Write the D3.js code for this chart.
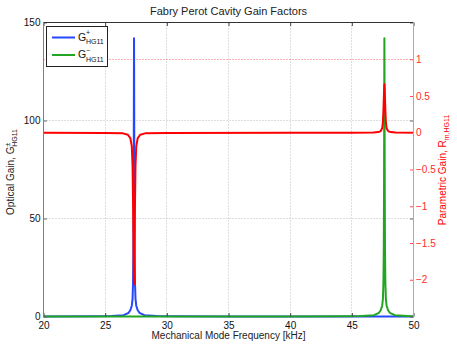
<!DOCTYPE html>
<html>
<head>
<meta charset="utf-8">
<script src="https://cdn.jsdelivr.net/npm/d3@7"></script>
<style>
body { margin: 0; background: #fff; }
svg { display: block; font-family: "Liberation Sans", Arial, Helvetica, sans-serif; }
</style>
</head>
<body>
<svg id="chart" width="457" height="344"></svg>
<script>
// mechanical mode frequency [kHz] and optical gain G+ (blue, left axis)
var gPlusFreq = [20, 24, 25.5, 26.5, 26.9, 27.04, 27.16, 27.22, 27.26, 27.29, 27.31, 27.32, 27.33, 27.34,
	27.35, 27.36, 27.37, 27.39, 27.42, 27.46, 27.52, 27.64, 27.78, 28.18, 29.18, 30.68, 35, 40, 50];
var gPlus = [0.02, 0.08, 0.2, 0.65, 1.9, 3.2, 5.5, 9, 17, 34, 62, 88, 120, 142,
	120, 88, 62, 34, 17, 9, 5.5, 3.2, 1.9, 0.65, 0.2, 0.08, 0.03, 0.02, 0.01];

// optical gain G- (green, left axis)
var gMinusFreq = [20, 30, 40, 44.3, 45.8, 46.8, 47.2, 47.34, 47.46, 47.52, 47.56, 47.59, 47.61, 47.62, 47.63, 47.64,
	47.65, 47.66, 47.67, 47.69, 47.72, 47.76, 47.82, 47.94, 48.08, 48.48, 49.48, 50];
var gMinus = [0.01, 0.02, 0.03, 0.08, 0.2, 0.65, 1.9, 3.2, 5.5, 9, 17, 34, 62, 88, 120, 142,
	120, 88, 62, 34, 17, 9, 5.5, 3.2, 1.9, 0.65, 0.2, 0.15];

// parametric gain R (red, right axis)
var rFreq = [20, 25, 26.44, 26.84, 27.04, 27.16, 27.22, 27.26, 27.28, 27.3, 27.32, 27.34, 27.36, 27.38, 27.4,
	27.42, 27.46, 27.52, 27.64, 27.84, 28.24, 30, 40, 45, 46.74, 47.14, 47.34, 47.46, 47.52, 47.56, 47.58,
	47.6, 47.62, 47.64, 47.66, 47.68, 47.7, 47.72, 47.76, 47.82, 47.94, 48.14, 48.54, 50];
var rGain = [0, -0.002, -0.008, -0.027, -0.072, -0.185, -0.45, -0.93, -1.24, -1.61, -1.92, -2.06, -1.92, -1.61, -1.24,
	-0.93, -0.45, -0.185, -0.072, -0.027, -0.008, -0.002, 0, 0.001, 0.003, 0.009, 0.023, 0.06, 0.145, 0.3, 0.4,
	0.51, 0.61, 0.66, 0.61, 0.51, 0.4, 0.3, 0.145, 0.06, 0.023, 0.009, 0.003, 0.001];

var rThreshold = 1;

var xTicks = [20, 25, 30, 35, 40, 45, 50];
var yLeftTicks = [0, 50, 100, 150];
var yRightTicks = [-2, -1.5, -1, -0.5, 0, 0.5, 1];

var blue = "#2447ff", green = "#22a522", red = "#ff0000";

drawChart();

function zip(fs, vs) {
	return fs.map(function(f, i) { return { f: f, v: vs[i] }; });
}

function crisp(v) { return Math.round(v - 0.5) + 0.5; }

function drawChart() {
	var svg = d3.select("#chart");
	var left = 43.5, right = 413.5, top = 22.5, bottom = 316.5;

	var x = d3.scaleLinear().domain([20, 50]).range([left, right]);
	var yL = d3.scaleLinear().domain([0, 150]).range([bottom, top]);
	var yR = d3.scaleLinear().domain([-2.5, 1.5]).range([bottom, top]);

	// grid
	var grid = svg.append("g").attr("stroke", "#bcbcbc").attr("stroke-dasharray", "1,2");
	xTicks.slice(1, -1).forEach(function(t) {
		grid.append("line").attr("x1", crisp(x(t))).attr("x2", crisp(x(t))).attr("y1", top).attr("y2", bottom);
	});
	yLeftTicks.slice(1, -1).forEach(function(t) {
		grid.append("line").attr("x1", left).attr("x2", right).attr("y1", crisp(yL(t))).attr("y2", crisp(yL(t)));
	});

	// threshold R = 1
	svg.append("line")
		.attr("x1", left).attr("x2", right)
		.attr("y1", crisp(yR(rThreshold))).attr("y2", crisp(yR(rThreshold)))
		.attr("stroke", "#ff6060").attr("stroke-dasharray", "1,2");

	var lineL = d3.line().x(function(d) { return x(d.f); }).y(function(d) { return yL(d.v); });
	var lineR = d3.line().x(function(d) { return x(d.f); }).y(function(d) { return yR(d.v); });

	svg.append("path").datum(zip(gPlusFreq, gPlus)).attr("d", lineL)
		.attr("fill", "none").attr("stroke", blue).attr("stroke-width", 2).attr("stroke-linejoin", "round");
	svg.append("path").datum(zip(gMinusFreq, gMinus)).attr("d", lineL)
		.attr("fill", "none").attr("stroke", green).attr("stroke-width", 2).attr("stroke-linejoin", "round");
	svg.append("path").datum(zip(rFreq, rGain)).attr("d", lineR)
		.attr("fill", "none").attr("stroke", red).attr("stroke-width", 2).attr("stroke-linejoin", "round");

	// axes
	var fontTick = 10;
	var bottomAxis = d3.axisBottom(x).tickValues(xTicks).tickSize(-3.5).tickPadding(5);
	var gB = svg.append("g").attr("transform", "translate(0," + bottom + ")").call(bottomAxis);
	gB.select(".domain").remove();
	gB.selectAll("line").attr("stroke", "#444");
	gB.selectAll("text").attr("fill", "#111").attr("font-size", fontTick).attr("font-family", null);

	var topAxis = d3.axisTop(x).tickValues(xTicks).tickSize(-3.5).tickFormat("");
	var gT = svg.append("g").attr("transform", "translate(0," + top + ")").call(topAxis);
	gT.select(".domain").remove();
	gT.selectAll("line").attr("stroke", "#444");

	var leftAxis = d3.axisLeft(yL).tickValues(yLeftTicks).tickSize(-3.5).tickPadding(3);
	var gL = svg.append("g").attr("transform", "translate(" + left + ",0)").call(leftAxis);
	gL.select(".domain").remove();
	gL.selectAll("line").attr("stroke", "#666");
	gL.selectAll("text").attr("fill", "#111").attr("font-size", fontTick).attr("font-family", null);

	var leftMirror = d3.axisRight(yL).tickValues(yLeftTicks).tickSize(-3.5).tickFormat("");
	var gLM = svg.append("g").attr("transform", "translate(" + right + ",0)").call(leftMirror);
	gLM.select(".domain").remove();
	gLM.selectAll("line").attr("stroke", "#666");

	var rightAxis = d3.axisRight(yR).tickValues(yRightTicks).tickSize(-3.5).tickPadding(2.5)
		.tickFormat(function(d) { return (d < 0 ? "\u2212" : "") + Math.abs(d); });
	var gR = svg.append("g").attr("transform", "translate(" + right + ",0)").call(rightAxis);
	gR.select(".domain").remove();
	gR.selectAll("line").attr("stroke", "#ff5050");
	gR.selectAll("text").attr("fill", "#ff2a2a").attr("font-size", fontTick).attr("font-family", null);

	// frame
	svg.append("line").attr("x1", left).attr("x2", right).attr("y1", top).attr("y2", top).attr("stroke", "#333");
	svg.append("line").attr("x1", left).attr("x2", left).attr("y1", top).attr("y2", bottom).attr("stroke", "#808080");
	svg.append("line").attr("x1", right).attr("x2", right).attr("y1", top).attr("y2", bottom).attr("stroke", "#d49a9a");

	// title and labels
	svg.append("text").attr("x", 228.5).attr("y", 15).attr("text-anchor", "middle")
		.attr("font-size", 11).attr("fill", "#222").text("Fabry Perot Cavity Gain Factors");
	svg.append("text").attr("x", 228.5).attr("y", 339).attr("text-anchor", "middle")
		.attr("font-size", 10).attr("fill", "#222").text("Mechanical Mode Frequency [kHz]");

	var yl = svg.append("text").attr("transform", "translate(14,172) rotate(-90)")
		.attr("text-anchor", "middle").attr("font-size", 10).attr("fill", "#222");
	yl.append("tspan").text("Optical Gain, G");
	yl.append("tspan").attr("dy", -4).attr("font-size", 7).text("\u00b1");
	yl.append("tspan").attr("dx", -4.1).attr("dy", 7).attr("font-size", 7).text("HG11");

	var yr = svg.append("text").attr("transform", "translate(446,170) rotate(-90)")
		.attr("text-anchor", "middle").attr("font-size", 10).attr("fill", red);
	yr.append("tspan").text("Parametric Gain, R");
	yr.append("tspan").attr("dy", 3).attr("font-size", 7).text("m,HG11");

	// legend
	var legendItems = [{ sign: "+", color: blue }, { sign: "\u2212", color: green }];
	var lg = svg.append("g");
	lg.append("rect").attr("x", 46.5).attr("y", 26.5).attr("width", 61).attr("height", 40)
		.attr("fill", "#fff").attr("stroke", "#222");
	legendItems.forEach(function(item, i) {
		var ly = 37.5 + i * 17.5;
		lg.append("line").attr("x1", 52).attr("x2", 75).attr("y1", ly).attr("y2", ly)
			.attr("stroke", item.color).attr("stroke-width", 2);
		lg.append("text").attr("x", 78).attr("y", ly + 3).attr("font-size", 10.5).attr("fill", "#111").text("G");
		lg.append("text").attr("x", 86).attr("y", ly - 2.5).attr("font-size", 7).attr("fill", "#111").text(item.sign);
		lg.append("text").attr("x", 86).attr("y", ly + 6.5).attr("font-size", 7).attr("fill", "#111").text("HG11");
	});
}
</script>
</body>
</html>
